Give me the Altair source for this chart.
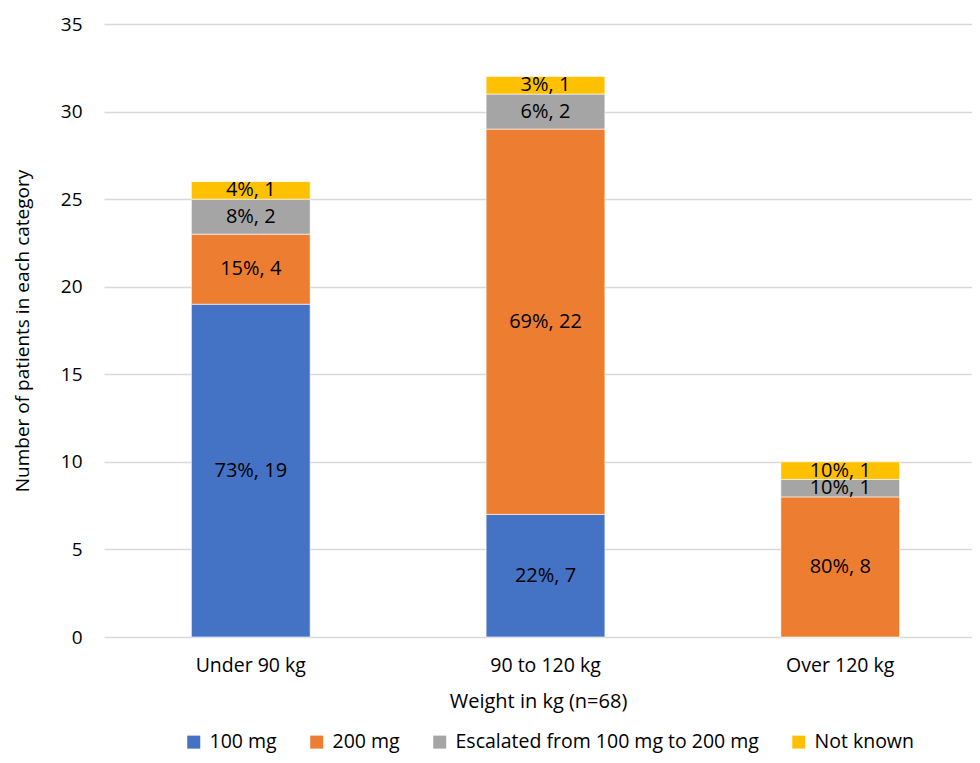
import altair as alt
import pandas as pd

categories = ["Under 90 kg", "90 to 120 kg", "Over 120 kg"]
series = ["100 mg", "200 mg", "Escalated from 100 mg to 200 mg", "Not known"]
colors = ["#4472C4", "#ED7D31", "#A5A5A5", "#FFC000"]
v_100 = [19, 7, 0]
v_200 = [4, 22, 8]
v_esc = [2, 2, 1]
v_nk = [1, 1, 1]

rows = []
for si, (s, vals) in enumerate(zip(series, [v_100, v_200, v_esc, v_nk])):
    for c, v in zip(categories, vals):
        rows.append({"cat": c, "series": s, "order": si, "count": v})
df = pd.DataFrame(rows)

FONT = "Open Sans"
FS = 19
FS2 = 20

base = alt.Chart(df).transform_joinaggregate(
    total="sum(count)", groupby=["cat"]
).transform_stack(
    stack="count", groupby=["cat"], as_=["y0", "y1"],
    sort=[alt.SortField("order", order="ascending")]
).transform_calculate(
    mid="(datum.y0 + datum.y1) / 2",
    label="round(datum.count / datum.total * 100) + '%, ' + datum.count"
)

xenc = alt.X("cat:N", sort=categories,
             scale=alt.Scale(paddingInner=0.597, paddingOuter=0.271, align=0.547),
             axis=alt.Axis(title="Weight in kg (n=68)", labelAngle=0, domain=False, ticks=False,
                           labelPadding=19, titlePadding=17, labelFontSize=19.5, titleFontSize=FS2,
                           labelFont=FONT, titleFont=FONT, titleFontWeight="normal",
                           labelColor="#000000", titleColor="#000000"))

bars = base.mark_bar(stroke="white", strokeWidth=0.6).encode(
    x=xenc,
    y=alt.Y("y0:Q", scale=alt.Scale(domain=[0, 35]),
            axis=alt.Axis(title="Number of patients in each category", values=[0, 5, 10, 15, 20, 25, 30, 35],
                          domain=False, ticks=False, labelPadding=22, titlePadding=28,
                          gridColor="#D9D9D9", gridWidth=1.5,
                          labelFontSize=FS, titleFontSize=FS, labelFont=FONT, titleFont=FONT,
                          titleFontWeight="normal", labelColor="#000000", titleColor="#000000")),
    y2="y1:Q",
    color=alt.Color("series:N", scale=alt.Scale(domain=series, range=colors),
                    legend=alt.Legend(title=None, orient="none", direction="horizontal",
                                      legendX=80, legendY=708, symbolType="square",
                                      symbolSize=169, symbolStrokeWidth=0, labelFont=FONT,
                                      labelFontSize=19.5, labelColor="#000000", columnPadding=30,
                                      labelOffset=6, columns=4, labelLimit=0)),
    order=alt.Order("order:Q")
)

texts = base.transform_filter("datum.count > 0").mark_text(
    font=FONT, fontSize=FS2, color="#000000", baseline="middle", align="center"
).encode(
    x=alt.X("cat:N", sort=categories),
    y=alt.Y("mid:Q"),
    text="label:N"
)

chart = (bars + texts).properties(
    width=868, height=613,
    autosize=alt.AutoSizeParams(type="none"),
    padding={"left": 96, "top": 16, "right": 0, "bottom": 118}
).configure_view(stroke=None)

chart.save("out.html", embed_options={"renderer": "svg", "actions": False})
